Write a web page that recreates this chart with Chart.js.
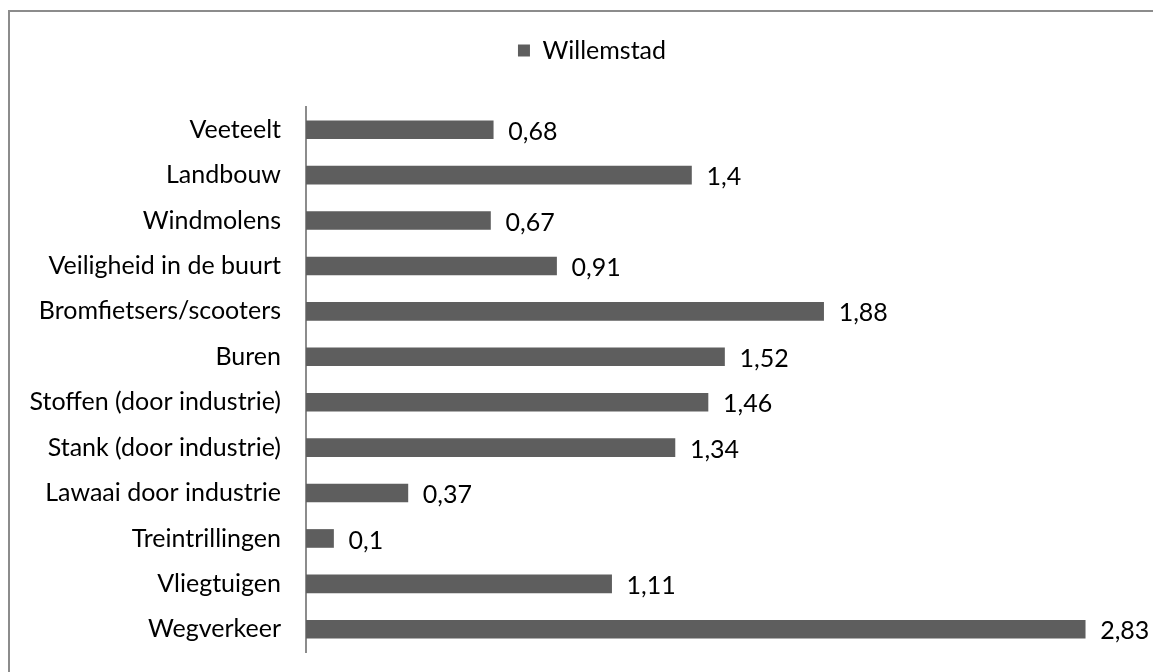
<!DOCTYPE html>
<html>
<head>
<meta charset="utf-8">
<script src="https://cdn.jsdelivr.net/npm/chart.js@4.4.0/dist/chart.umd.min.js"></script>
<style>
  html, body { margin: 0; padding: 0; background: #fff; overflow: hidden; width: 1153px; height: 672px; }
  #frame { position: absolute; left: 8px; top: 10px; width: 1200px; height: 700px; border: 2px solid #8c8c8c; box-sizing: border-box; }
  #chart { position: absolute; left: 10px; top: 12px; }
</style>
</head>
<body>
<div id="frame"></div>
<canvas id="chart" width="1160" height="680"></canvas>
<script>
// categorieën van boven naar beneden
const categories = ['Veeteelt', 'Landbouw', 'Windmolens', 'Veiligheid in de buurt', 'Bromfietsers/scooters',
    'Buren', 'Stoffen (door industrie)', 'Stank (door industrie)', 'Lawaai door industrie',
    'Treintrillingen', 'Vliegtuigen', 'Wegverkeer'];
const willemstad = [0.68, 1.4, 0.67, 0.91, 1.88, 1.52, 1.46, 1.34, 0.37, 0.1, 1.11, 2.83];
const xMax = 3;

const FONT = 'Lato, "Open Sans", sans-serif';
const FSIZE = 25;

// waarden achter de balken
const valueLabels = {
    id: 'valueLabels',
    afterDatasetsDraw(chart) {
        const ctx = chart.ctx;
        const meta = chart.getDatasetMeta(0);
        ctx.save();
        ctx.font = FSIZE + 'px ' + FONT;
        ctx.fillStyle = '#000';
        ctx.textAlign = 'left';
        ctx.textBaseline = 'middle';
        meta.data.forEach((bar, i) => {
            const txt = String(willemstad[i]).replace('.', ',');
            ctx.fillText(txt, bar.x + 15, bar.y + 2);
        });
        ctx.restore();
    }
};

// extra ruimte onder de legenda, legenda iets naar rechts
const legendGap = {
    id: 'legendGap',
    beforeInit(chart) {
        const fit = chart.legend.fit;
        chart.legend.fit = function () {
            fit.bind(chart.legend)();
            this.height += 34;
        };
    },
    afterLayout(chart) {
        chart.legend.left += 21;
        chart.legend.right += 21;
    }
};

const ctx = document.getElementById('chart').getContext('2d');
const chart = new Chart(ctx, {
    type: 'bar',
    data: {
        labels: categories,
        datasets: [{
            label: 'Willemstad',
            data: willemstad,
            backgroundColor: '#5e5e5e',
            barThickness: 18
        }]
    },
    options: {
        indexAxis: 'y',
        responsive: false,
        animation: false,
        layout: { padding: { top: 20, right: 38, bottom: 0, left: 0 } },
        scales: {
            x: {
                display: false,
                min: 0,
                max: xMax
            },
            y: {
                afterFit: scale => { scale.width = 296; },
                grid: { display: false, drawTicks: false },
                border: { display: true, color: '#8c8c8c', width: 2 },
                ticks: {
                    padding: 25,
                    color: '#000',
                    font: { family: FONT, size: FSIZE }
                }
            }
        },
        plugins: {
            legend: {
                display: true,
                position: 'top',
                labels: {
                    boxWidth: 12,
                    boxHeight: 12,
                    padding: 6,
                    color: '#000',
                    font: { family: FONT, size: FSIZE }
                }
            },
            tooltip: { enabled: false }
        }
    },
    plugins: [valueLabels, legendGap]
});
</script>
</body>
</html>
